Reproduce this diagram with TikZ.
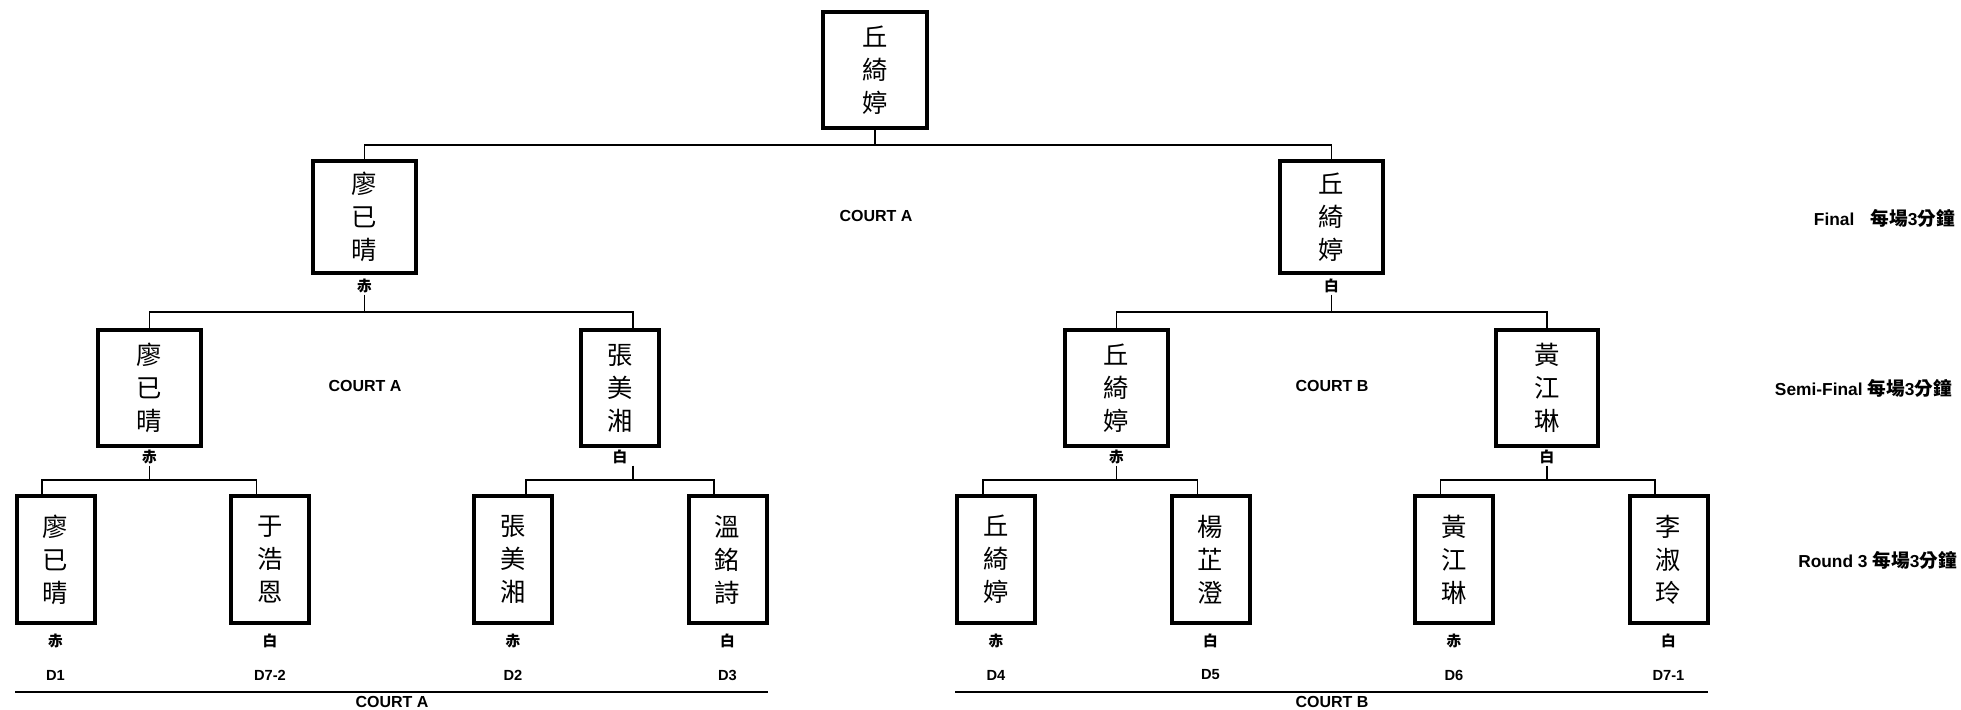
\documentclass[tikz,border=0pt]{standalone}
\usepackage{fontspec}
\setmainfont{Liberation Sans}
\newfontfamily\cjk{Noto Sans CJK TC}

\newcommand{\cjkbig}[1]{{\cjk\fontsize{14}{14}\selectfont #1}}

\tikzset{
  namebox/.style={draw, line width=3pt, inner sep=0pt, align=center,
    font=\cjk\fontsize{19}{24.75}\selectfont},
  finbox/.style={namebox, minimum width=77pt, minimum height=84pt},
  semibox/.style={namebox, minimum width=77pt, minimum height=87pt},
  rndbox/.style={namebox, minimum width=58.5pt, minimum height=95pt},
  side/.style={inner sep=1pt, font=\cjk\bfseries\fontsize{11}{11}\selectfont},
  lbl/.style={inner sep=0pt, font=\bfseries\fontsize{12}{12}\selectfont},
  roundlbl/.style={inner sep=0pt, anchor=east, font=\bfseries\fontsize{13}{13}\selectfont},
  dlbl/.style={inner sep=0pt, font=\bfseries\fontsize{11}{11}\selectfont},
  link/.style={line width=1.2pt},
  base/.style={line width=1.5pt}
}

\begin{document}
\begin{tikzpicture}[x=0.75pt, y=-0.75pt]
    \useasboundingbox (0,0) rectangle (1961,710);

    % boxes
    \node[namebox, minimum width=78pt, minimum height=87pt] (champ) at (875,70.5) {丘\\綺\\婷};
    \node[finbox] (f1) at (364.5,217) {廖\\已\\晴};
    \node[finbox] (f2) at (1331.5,217) {丘\\綺\\婷};
    \node[semibox] (s1) at (149.5,388) {廖\\已\\晴};
    \node[semibox, minimum width=58.5pt] (s2) at (620,388) {張\\美\\湘};
    \node[semibox] (s3) at (1116.5,388) {丘\\綺\\婷};
    \node[semibox] (s4) at (1547,388) {黃\\江\\琳};
    \node[rndbox] (r1) at (55.5,559.5) {廖\\已\\晴};
    \node[rndbox] (r2) at (270,559.5) {于\\浩\\恩};
    \node[rndbox] (r3) at (513,559.5) {張\\美\\湘};
    \node[rndbox] (r4) at (727.5,559.5) {溫\\銘\\詩};
    \node[rndbox] (r5) at (996,559.5) {丘\\綺\\婷};
    \node[rndbox] (r6) at (1210.5,559.5) {楊\\芷\\澄};
    \node[rndbox] (r7) at (1454,559.5) {黃\\江\\琳};
    \node[rndbox] (r8) at (1668.5,559.5) {李\\淑\\玲};

    % red / white
    \node[side] (f1c) at (364.5,286) {赤};
    \node[side] (f2c) at (1331.5,286) {白};
    \node[side] (s1c) at (149.5,457) {赤};
    \node[side] (s2c) at (620,457) {白};
    \node[side] (s3c) at (1116.5,457) {赤};
    \node[side] (s4c) at (1547,457) {白};
    \node[side] (r1c) at (55.5,641) {赤};
    \node[side] (r2c) at (270,641) {白};
    \node[side] (r3c) at (513,641) {赤};
    \node[side] (r4c) at (727.5,641) {白};
    \node[side] (r5c) at (996,641) {赤};
    \node[side] (r6c) at (1210.5,641) {白};
    \node[side] (r7c) at (1454,641) {赤};
    \node[side] (r8c) at (1668.5,641) {白};

    % match numbers
    \node[dlbl] (r1d) at (55.5,675) {D1};
    \node[dlbl] (r2d) at (270,675) {D7-2};
    \node[dlbl] (r3d) at (513,675) {D2};
    \node[dlbl] (r4d) at (727.5,675) {D3};
    \node[dlbl] (r5d) at (996,675) {D4};
    \node[dlbl] (r6d) at (1210.5,675) {D5};
    \node[dlbl] (r7d) at (1454,675) {D6};
    \node[dlbl] (r8d) at (1668.5,675) {D7-1};

    % courts
    \node[lbl] (ctop) at (876,216) {COURT A};
    \node[lbl] (cmidA) at (365,386) {COURT A};
    \node[lbl] (cmidB) at (1332,386) {COURT B};
    \node[lbl] (cbotA) at (392,702) {COURT A};
    \node[lbl] (cbotB) at (1332,702) {COURT B};

    % rounds
    \node[roundlbl] (tFinal) at (1955,218) {Final\hspace{12pt}\cjkbig{每場}3\cjkbig{分鐘}};
    \node[roundlbl] (tSemi) at (1952,388) {Semi-Final \cjkbig{每場}3\cjkbig{分鐘}};
    \node[roundlbl] (tRound) at (1957,560) {Round 3 \cjkbig{每場}3\cjkbig{分鐘}};

    % final fork
    \coordinate (kf) at (875,145);
    \draw[link] (champ.south) -- (kf);
    \draw[link] (f1.north) |- (kf) -| (f2.north);

    % semi-final forks
    \coordinate (kA) at (364.5,312);
    \coordinate (kB) at (1331.5,312);
    \draw[link] (f1c.south) -- (kA);
    \draw[link] (s1.north) |- (kA) -| ([xshift=9.75pt]s2.north);
    \draw[link] (f2c.south) -- (kB);
    \draw[link] (s3.north) |- (kB) -| (s4.north);

    % round 3 forks
    \coordinate (k1) at (149.5,480);
    \coordinate (k2) at (633,480);
    \coordinate (k3) at (1116.5,480);
    \coordinate (k4) at (1547,480);
    \draw[link] (s1c.south) -- (k1);
    \draw[link] ([xshift=-10pt]r1.north) |- (k1) -| ([xshift=-10pt]r2.north);
    \draw[link] ([xshift=9.75pt]s2c.south) -- (k2);
    \draw[link] ([xshift=9.75pt]r3.north) |- (k2) -| ([xshift=-10pt]r4.north);
    \draw[link] (s3c.south) -- (k3);
    \draw[link] ([xshift=-9.75pt]r5.north) |- (k3) -| ([xshift=-9.75pt]r6.north);
    \draw[link] (s4c.south) -- (k4);
    \draw[link] ([xshift=-10pt]r7.north) |- (k4) -| ([xshift=-10pt]r8.north);

    % court rules
    \coordinate (ruleAl) at (15,692);
    \coordinate (ruleAr) at (768,692);
    \coordinate (ruleBl) at (955,692);
    \coordinate (ruleBr) at (1708,692);
    \draw[base] (ruleAl) -- (ruleAr);
    \draw[base] (ruleBl) -- (ruleBr);
\end{tikzpicture}
\end{document}
